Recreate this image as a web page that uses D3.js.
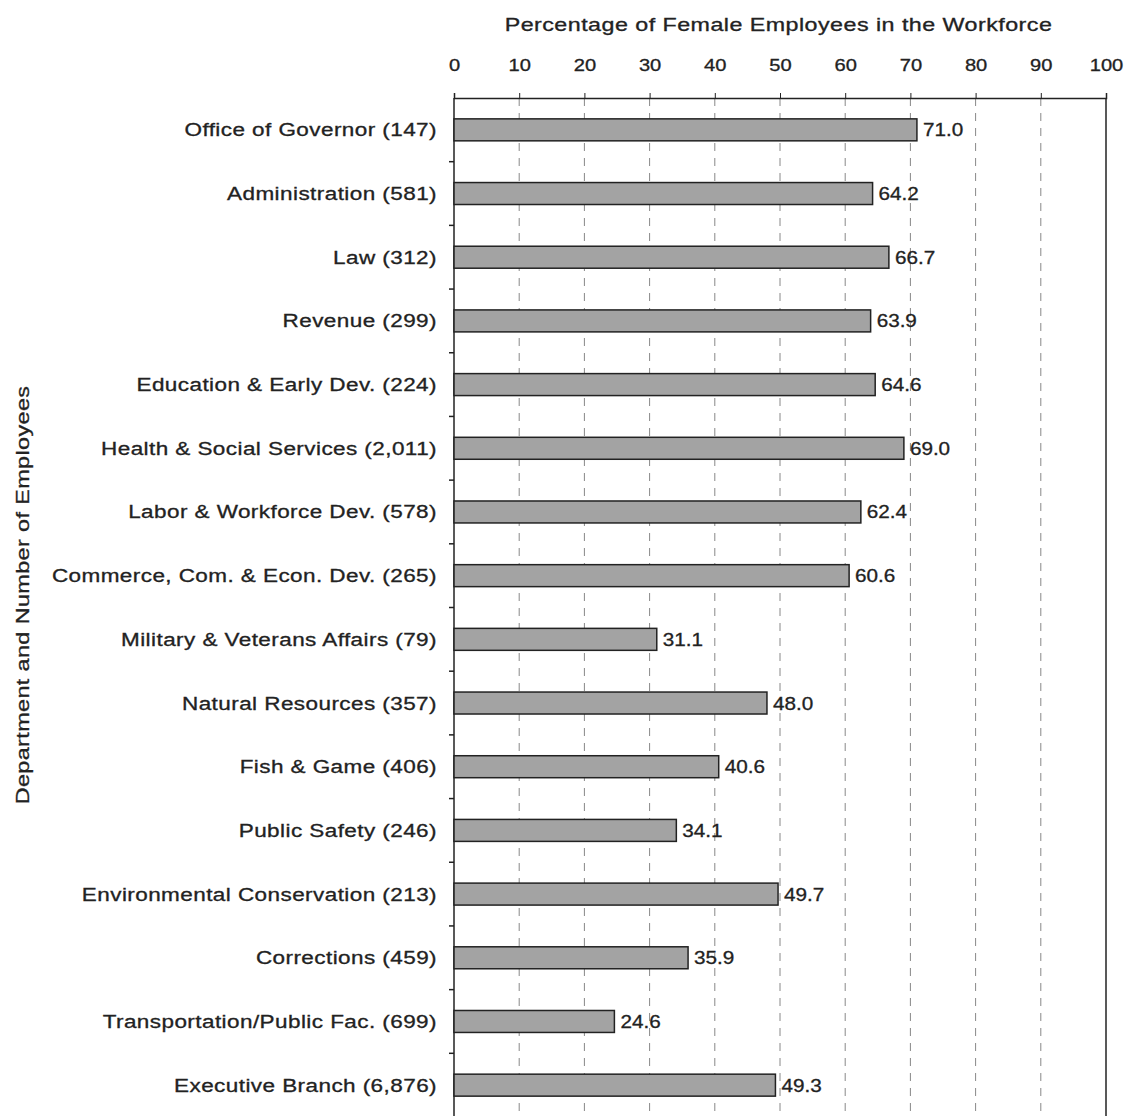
<!DOCTYPE html>
<html><head><meta charset="utf-8">
<script src="https://cdn.jsdelivr.net/npm/d3@7"></script>
<style>body{margin:0;background:#fff}text{font-family:Arial,"Liberation Sans",sans-serif;fill:#222;stroke:#222;stroke-width:0.3}</style>
</head><body>
<svg id="c" width="1128" height="1116"></svg>
<script>
const categories = ["Office of Governor (147)","Administration (581)","Law (312)","Revenue (299)","Education & Early Dev. (224)","Health & Social Services (2,011)","Labor & Workforce Dev. (578)","Commerce, Com. & Econ. Dev. (265)","Military & Veterans Affairs (79)","Natural Resources (357)","Fish & Game (406)","Public Safety (246)","Environmental Conservation (213)","Corrections (459)","Transportation/Public Fac. (699)","Executive Branch (6,876)"];
const values = [71.0,64.2,66.7,63.9,64.6,69.0,62.4,60.6,31.1,48.0,40.6,34.1,49.7,35.9,24.6,49.3];
const xTicks = [0,10,20,30,40,50,60,70,80,90,100];
const xTitle = "Percentage of Female Employees in the Workforce";
const yTitle = "Department and Number of Employees";

(function(){
const svg = d3.select("#c");
const pl = 454, pr = 1106, pt = 98, pb = 1117;
const x = d3.scaleLinear().domain([0,100]).range([pl,pr]);
const y = d3.scaleBand().domain(categories).range([pt,pb]).paddingInner(0.655).paddingOuter(0.3275);
const gap = (y.step()-y.bandwidth())/2;
const cy = c => y(c)+y.bandwidth()/2;

// gridlines
svg.append("g").selectAll("line").data(xTicks.filter(d=>d>0&&d<100)).join("line")
  .attr("x1",d=>x(d)).attr("x2",d=>x(d)).attr("y1",pt).attr("y2",pb)
  .attr("stroke","#888").attr("stroke-width",1).attr("stroke-dasharray","8,7");

// right border
svg.append("line").attr("x1",pr).attr("x2",pr).attr("y1",pt).attr("y2",pb).attr("stroke","#222").attr("stroke-width",1.5);

// top axis
const xa = svg.append("g").attr("transform",`translate(0,${pt})`)
  .call(d3.axisTop(x).tickValues(xTicks).tickSize(5).tickPadding(22).tickFormat(d3.format("d")));
xa.select(".domain").attr("stroke","#222").attr("stroke-width",1.5);
xa.selectAll(".tick line").attr("stroke","#222");
xa.selectAll(".tick text").attr("font-size",16.5).attr("fill","#222").attr("transform","scale(1.22,1)")
  .style("font-family","Arial, 'Liberation Sans', sans-serif");

// left axis with ticks at band boundaries
svg.append("line").attr("x1",pl).attr("x2",pl).attr("y1",pt).attr("y2",pb).attr("stroke","#222").attr("stroke-width",1.5);
svg.append("g").selectAll("line").data(categories.slice(1)).join("line")
  .attr("x1",pl-5).attr("x2",pl).attr("y1",d=>y(d)-gap).attr("y2",d=>y(d)-gap)
  .attr("stroke","#222").attr("stroke-width",1.5);

// labels
svg.append("g").selectAll("text").data(categories).join("text")
  .attr("transform",d=>`translate(437,${cy(d)}) scale(1.25,1)`).attr("dy","0.36em")
  .attr("text-anchor","end").attr("font-size",18).attr("letter-spacing","0.35").text(d=>d);

// bars
svg.append("g").selectAll("rect").data(values).join("rect")
  .attr("x",x(0)).attr("y",(d,i)=>y(categories[i]))
  .attr("width",d=>x(d)-x(0)).attr("height",y.bandwidth())
  .attr("fill","#a3a3a3").attr("stroke","#222").attr("stroke-width",1.5);

// value labels
svg.append("g").selectAll("text").data(values).join("text")
  .attr("transform",(d,i)=>`translate(${x(d)+6},${cy(categories[i])}) scale(1.15,1)`).attr("dy","0.36em")
  .attr("font-size",18).text(d=>d.toFixed(1));

// titles
svg.append("text").attr("transform",`translate(${(503+1054)/2},31) scale(1.33,1)`).attr("text-anchor","middle")
  .attr("font-size",17.5).attr("letter-spacing","0.35").text(xTitle);
svg.append("text").attr("transform","translate(29,595) rotate(-90) scale(1.3,1)").attr("text-anchor","middle")
  .attr("font-size",18).attr("letter-spacing","0.3").text(yTitle);
})();
</script>
</body></html>
